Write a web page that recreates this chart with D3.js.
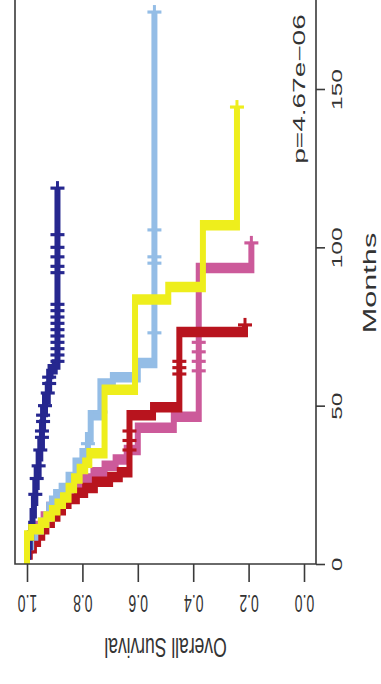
<!DOCTYPE html>
<html>
<head>
<meta charset="utf-8">
<script src="https://cdn.jsdelivr.net/npm/d3@7"></script>
<style>
  html, body { margin: 0; padding: 0; background: #fff; }
  svg { display: block; }
  text { font-family: "Liberation Sans", Arial, Helvetica, sans-serif; fill: #333; }
</style>
</head>
<body>
<script>
// Kaplan-Meier overall survival by group (months vs. survival probability)
const seriesNames = ["Group 1", "Group 2", "Group 3", "Group 4", "Group 5"];
const seriesColors = ["#cc5a9a", "#b8141e", "#94bde6", "#26278f", "#eeee1c"];

// step times (months) and survival from that time on
const g1Times = [0, 5, 9, 12, 15, 18, 21, 23, 25, 27, 29, 31, 33, 36, 43, 46.5, 93.5, 101.4];
const g1Surv  = [1, .985, .96, .94, .92, .89, .86, .83, .80, .76, .72, .68, .64, .60, .47, .38, .19, .19];
const g1Censor = [61, 64, 67, 70, 101.4];

const g2Times = [0, 3, 5, 7, 9, 11, 13, 15, 17, 19, 20.5, 22.5, 24, 26, 27.5, 29, 47, 49.5, 73.3, 75.5];
const g2Surv  = [1, .99, .975, .96, .945, .93, .91, .89, .87, .85, .82, .79, .755, .70, .665, .63, .545, .45, .213, .213];
const g2Censor = [36, 39, 42, 60, 62, 64, 75.5];

const g3Times = [0, 6, 9, 11, 13, 15, 18, 20, 22, 24, 27.5, 32, 35, 40, 47, 57, 59, 63.5, 174.3];
const g3Surv  = [1, .985, .97, .95, .93, .92, .91, .895, .875, .85, .825, .80, .78, .77, .735, .69, .60, .54, .54];
const g3Censor = [14, 22, 38, 48, 73, 95, 97, 105.5, 174.3];

const g4Times = [0, 3, 6, 9, 12, 16, 20, 25, 29, 34, 38, 44, 48, 52, 56, 60, 61.5, 63, 118.7];
const g4Surv  = [1, .995, .99, .985, .98, .975, .97, .965, .958, .952, .946, .942, .935, .925, .92, .915, .9, .89, .89];
const g4Censor = [22, 27, 31, 36, 40, 42, 45, 47, 50, 54, 57, 59, 64, 66, 68, 70, 72, 74, 76, 78, 80, 82, 92, 94, 97, 100, 104, 118.7];

const g5Times = [0, 9, 11, 13, 15, 17, 19, 21, 24, 27, 30, 32, 35, 55, 83.5, 87.5, 107, 144.3];
const g5Surv  = [1, .985, .95, .93, .91, .89, .87, .85, .83, .81, .79, .775, .72, .61, .49, .365, .242, .242];
const g5Censor = [144.3];

const survTicks = [0, 0.2, 0.4, 0.6, 0.8, 1.0];
const monthTicks = [0, 50, 100, 150];
const pValueText = "p=4.67e\u221206";
const survTitle = "Overall Survival";
const monthTitle = "Months";

const series = [
  { times: g1Times, surv: g1Surv, censor: g1Censor },
  { times: g2Times, surv: g2Surv, censor: g2Censor },
  { times: g3Times, surv: g3Surv, censor: g3Censor },
  { times: g4Times, surv: g4Surv, censor: g4Censor },
  { times: g5Times, surv: g5Surv, censor: g5Censor }
].map((s, i) => ({ ...s, name: seriesNames[i], color: seriesColors[i] }));

// the plot is laid out on its side: time runs upward, survival runs right-to-left
const K = 1.75; // vertical stretch of the whole drawing
const W = 381, H = 684;
const sx = d3.scaleLinear().domain([0, 1]).range([304, 27]);
const ty = d3.scaleLinear().domain([0, 150]).range([564, 89]);

const svg = d3.select("body").append("svg").attr("width", W).attr("height", H);
svg.append("rect").attr("width", W).attr("height", H).attr("fill", "#fff");

// curves, drawn in a frame compressed by K and stretched back
const plot = svg.append("g").attr("transform", `scale(1,${K})`);
const line = d3.line()
  .x(d => sx(d[1]))
  .y(d => ty(d[0]) / K)
  .curve(d3.curveStepBefore);

function survAt(s, t) {
  let v = s.surv[0];
  for (let i = 0; i < s.times.length; i++) if (s.times[i] <= t) v = s.surv[i];
  return v;
}

series.forEach(s => {
  const pts = s.times.map((t, i) => [t, s.surv[i]]);
  plot.append("path")
    .attr("d", line(pts))
    .attr("fill", "none")
    .attr("stroke", s.color)
    .attr("stroke-width", 6)
    .attr("stroke-linejoin", "miter")
    .attr("stroke-linecap", "butt");
  const marks = plot.append("g").attr("stroke", s.color).attr("stroke-width", 1.8);
  s.censor.forEach(t => {
    const cx = sx(survAt(s, t)), cy = ty(t) / K;
    marks.append("line").attr("x1", cx - 7).attr("x2", cx + 7).attr("y1", cy).attr("y2", cy);
    marks.append("line").attr("x1", cx).attr("x2", cx).attr("y1", cy - 4).attr("y2", cy + 4).attr("stroke-width", 3);
  });
});

// frame
svg.append("path")
  .attr("d", `M15,-10V${ty(0)}H316V-10`)
  .attr("fill", "none")
  .attr("stroke", "#3a3a3a")
  .attr("stroke-width", 1.6);

// survival axis (bottom), labels upside down
const survAxis = svg.append("g")
  .attr("transform", `translate(0,${ty(0)})`)
  .call(d3.axisBottom(sx).tickValues(survTicks).tickSize(18).tickSizeOuter(0).tickFormat(d3.format(".1f")));
survAxis.select(".domain").remove();
survAxis.selectAll(".tick line").attr("stroke", "#3a3a3a").attr("stroke-width", 1.6);
survAxis.selectAll(".tick text")
  .attr("x", 0).attr("y", 0).attr("dy", null)
  .attr("text-anchor", "middle")
  .attr("dominant-baseline", "central")
  .attr("font-size", 14)
  .attr("fill", "#333")
  .attr("transform", "translate(0,39) scale(1,1.65) rotate(180)");

// months axis (right), labels reading upward
const monthAxis = svg.append("g")
  .attr("transform", "translate(316,0)")
  .call(d3.axisRight(ty).tickValues(monthTicks).tickSize(9).tickSizeOuter(0));
monthAxis.select(".domain").remove();
monthAxis.selectAll(".tick line").attr("stroke", "#3a3a3a").attr("stroke-width", 1.6);
monthAxis.selectAll(".tick text")
  .attr("x", 0).attr("y", 0).attr("dy", null)
  .attr("text-anchor", "middle")
  .attr("dominant-baseline", "central")
  .attr("font-size", 14)
  .attr("fill", "#333")
  .attr("transform", "translate(21,0) scale(1,1.75) rotate(-90)");

// titles
svg.append("text")
  .attr("transform", `translate(${(sx(0) + sx(1)) / 2},648) scale(1,1.6) rotate(180)`)
  .attr("text-anchor", "middle")
  .attr("dominant-baseline", "central")
  .attr("font-size", 17.5)
  .text(survTitle);

svg.append("text")
  .attr("transform", "translate(370,283) scale(1,1.75) rotate(-90)")
  .attr("text-anchor", "middle")
  .attr("dominant-baseline", "central")
  .attr("font-size", 17.5)
  .text(monthTitle);

svg.append("text")
  .attr("transform", `translate(299,${ty(150)}) scale(1,1.75) rotate(-90)`)
  .attr("text-anchor", "middle")
  .attr("dominant-baseline", "central")
  .attr("font-size", 16)
  .text(pValueText);
</script>
</body>
</html>
